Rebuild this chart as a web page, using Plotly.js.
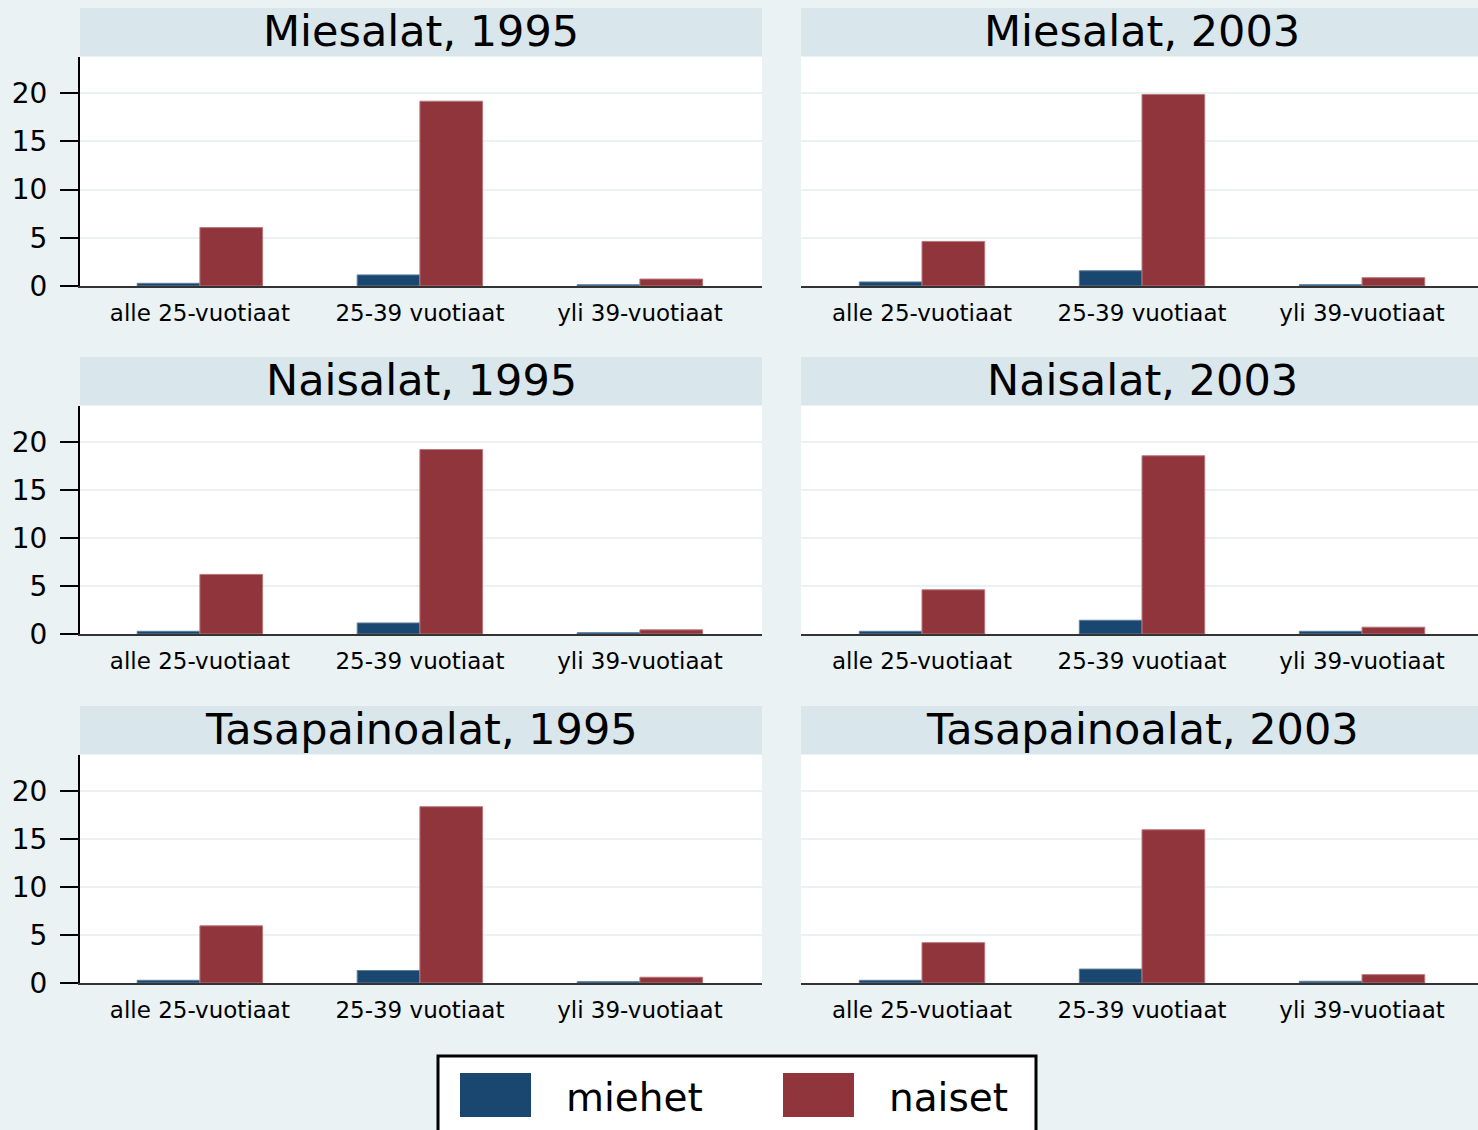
<!DOCTYPE html>
<html>
<head>
<meta charset="utf-8">
<script src="https://cdn.plot.ly/plotly-3.0.1.min.js"></script>
<style>
  html, body { margin: 0; padding: 0; background: #eaf2f3; overflow: hidden; }
  #chart { width: 1478px; height: 1130px; }
</style>
</head>
<body>
<div id="chart"></div>
<script>
// ---- Data ----
const categories = ['alle 25-vuotiaat', '25-39 vuotiaat', 'yli 39-vuotiaat'];
const seriesNames = ['miehet', 'naiset'];
const panelTitles = ['Miesalat, 1995', 'Miesalat, 2003', 'Naisalat, 1995', 'Naisalat, 2003', 'Tasapainoalat, 1995', 'Tasapainoalat, 2003'];

const miesalat1995_miehet = [0.28, 1.15, 0.13];
const miesalat1995_naiset = [6.05, 19.15, 0.72];
const miesalat2003_miehet = [0.42, 1.58, 0.14];
const miesalat2003_naiset = [4.62, 19.85, 0.86];
const naisalat1995_miehet = [0.28, 1.15, 0.14];
const naisalat1995_naiset = [6.2, 19.2, 0.43];
const naisalat2003_miehet = [0.28, 1.43, 0.28];
const naisalat2003_naiset = [4.6, 18.55, 0.71];
const tasapaino1995_miehet = [0.28, 1.3, 0.14];
const tasapaino1995_naiset = [5.95, 18.35, 0.6];
const tasapaino2003_miehet = [0.28, 1.45, 0.18];
const tasapaino2003_naiset = [4.2, 15.95, 0.87];

const panelMiehet = [miesalat1995_miehet, miesalat2003_miehet, naisalat1995_miehet, naisalat2003_miehet, tasapaino1995_miehet, tasapaino2003_miehet];
const panelNaiset = [miesalat1995_naiset, miesalat2003_naiset, naisalat1995_naiset, naisalat2003_naiset, tasapaino1995_naiset, tasapaino2003_naiset];
const yTicks = [0, 5, 10, 15, 20];

// ---- Styling / layout helpers ----
const W = 1478, H = 1130;
const px = x => x / W;
const py = y => 1 - y / H;
const colMiehet = '#1a476f';
const colNaiset = '#90353b';
const bg = '#eaf2f3';
const stripCol = '#d9e6eb';
const FONT = 'DejaVu Sans, Liberation Sans, Arial, sans-serif';

// pixel geometry of panels
const cols = [{x0: 80, x1: 762, stripEnd: 762, center: 421, range: [-0.545, 2.555]},
              {x0: 801, x1: 1478, stripEnd: 1490, center: 1142, range: [-0.55, 2.527]}];
const rows = [{strip0: 8, strip1: 56, top: 57, bottom: 286},
              {strip0: 357, strip1: 405, top: 406, bottom: 634},
              {strip0: 706, strip1: 754, top: 755, bottom: 983}];

const traces = [];
const layout = {
  width: W, height: H,
  margin: {l: 0, r: 0, t: 0, b: 0},
  paper_bgcolor: bg,
  plot_bgcolor: '#ffffff',
  showlegend: false,
  barmode: 'group',
  bargap: 0.43,
  bargroupgap: 0,
  font: {family: FONT, color: '#000'},
  shapes: [],
  annotations: []
};

for (let i = 0; i < 6; i++) {
  const r = rows[Math.floor(i / 2)];
  const c = cols[i % 2];
  const n = i + 1;
  const xa = 'x' + (n === 1 ? '' : n);
  const ya = 'y' + (n === 1 ? '' : n);
  traces.push({
    type: 'bar', x: categories, y: panelMiehet[i], name: seriesNames[0],
    xaxis: xa, yaxis: ya,
    marker: {color: colMiehet, line: {color: '#5f7f9c', width: 1}},
    hoverinfo: 'x+y+name'
  });
  traces.push({
    type: 'bar', x: categories, y: panelNaiset[i], name: seriesNames[1],
    xaxis: xa, yaxis: ya,
    marker: {color: colNaiset, line: {color: '#b7777b', width: 1}},
    hoverinfo: 'x+y+name'
  });
  layout['xaxis' + (n === 1 ? '' : n)] = {
    domain: [px(c.x0), px(c.x1)],
    anchor: ya,
    type: 'category',
    range: c.range,
    showgrid: false,
    showline: true, linecolor: '#333333', linewidth: 2,
    ticks: '',
    ticklabelstandoff: 5,
    tickfont: {family: FONT, size: 23, color: '#000'},
    fixedrange: true
  };
  layout['yaxis' + (n === 1 ? '' : n)] = {
    domain: [py(r.bottom), py(r.top)],
    anchor: xa,
    range: [0, 23.73],
    tickmode: 'array', tickvals: yTicks, ticktext: yTicks.map(String),
    ticks: i % 2 === 0 ? 'outside' : '', ticklen: 18, tickwidth: 2, tickcolor: '#000',
    ticklabelstandoff: 7,
    showline: i % 2 === 0, linecolor: '#000', linewidth: 2,
    showticklabels: i % 2 === 0,
    showgrid: true, gridcolor: '#eaf2f3', gridwidth: 2,
    zeroline: false,
    tickfont: {family: FONT, size: 28, color: '#000'},
    fixedrange: true
  };
  // strip
  layout.shapes.push({
    type: 'rect', xref: 'paper', yref: 'paper', layer: 'below',
    x0: px(c.x0), x1: px(c.stripEnd), y0: py(r.strip1), y1: py(r.strip0),
    fillcolor: stripCol, line: {width: 0}
  });
  layout.annotations.push({
    xref: 'paper', yref: 'paper', x: px(c.center), y: py((r.strip0 + r.strip1) / 2 - 1),
    xanchor: 'center', yanchor: 'middle', showarrow: false,
    text: panelTitles[i], font: {family: FONT, size: 43, color: '#000'}
  });
}

// Legend (drawn as box + swatches + labels)
layout.shapes.push({
  type: 'rect', xref: 'paper', yref: 'paper',
  x0: px(438), x1: px(1036), y0: py(1145), y1: py(1056),
  fillcolor: '#ffffff', line: {color: '#000', width: 3}
});
const legendItems = [{sx0: 460, sx1: 531, tx: 634, color: colMiehet},
                     {sx0: 783, sx1: 854, tx: 948, color: colNaiset}];
legendItems.forEach((it, k) => {
  layout.shapes.push({
    type: 'rect', xref: 'paper', yref: 'paper',
    x0: px(it.sx0), x1: px(it.sx1), y0: py(1117), y1: py(1073),
    fillcolor: it.color, line: {width: 0}
  });
  layout.annotations.push({
    xref: 'paper', yref: 'paper', x: px(it.tx), y: py(1097),
    xanchor: 'center', yanchor: 'middle', showarrow: false,
    text: seriesNames[k], font: {family: FONT, size: 39, color: '#000'}
  });
});

Plotly.newPlot('chart', traces, layout, {displayModeBar: false, staticPlot: true});
</script>
</body>
</html>
